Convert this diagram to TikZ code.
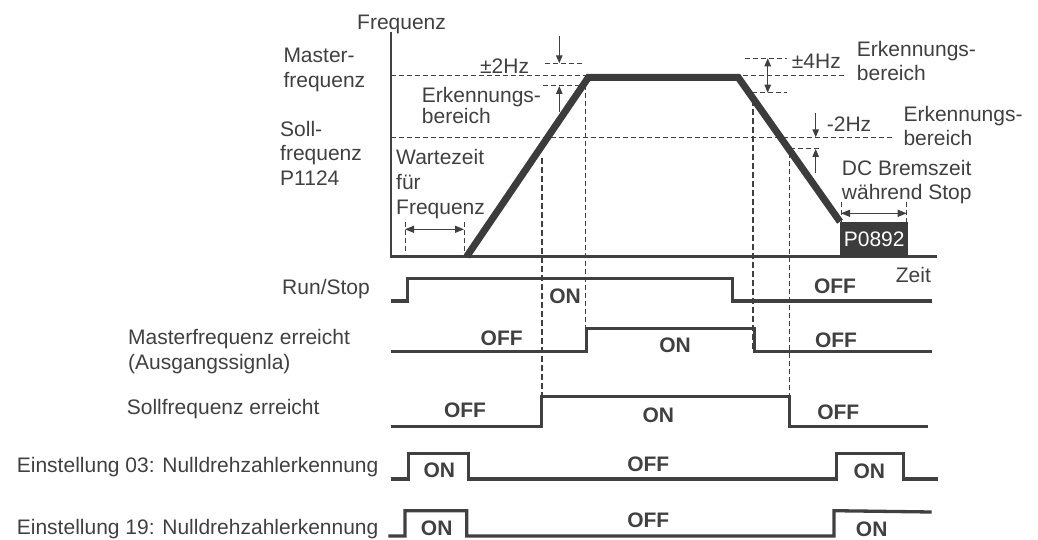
\documentclass[tikz,border=0pt]{standalone}
\usepackage{fontspec}
\setmainfont{Liberation Sans}
\usetikzlibrary{arrows.meta}
\definecolor{ink}{HTML}{404040}
\definecolor{curve}{HTML}{3C3C3C}
\begin{document}
\begin{tikzpicture}[x=1pt,y=-1pt,
  lbl/.style={inner sep=0pt, text=ink, align=left, anchor=north west},
  onoff/.style={inner sep=0pt, text=ink, font=\fontsize{21}{25}\selectfont\bfseries},
  thindash/.style={draw=ink, line width=1pt, dash pattern=on 5pt off 3pt},
  thickdash/.style={draw=ink, line width=1.8pt, dash pattern=on 6pt off 3pt},
  sig/.style={draw=ink, line width=3.3pt, line join=miter},
  axis/.style={draw=ink, line width=2.2pt},
  dimarrow/.style={draw=ink, line width=1pt, -{Triangle[length=8pt,width=6.5pt]}},
  dimboth/.style={draw=ink, line width=1.3pt, {Triangle[length=9pt,width=7pt]}-{Triangle[length=9pt,width=7pt]}},
]
\useasboundingbox (0,0) rectangle (1038,540);
\tikzset{every node/.append style={font=\fontsize{21}{25}\selectfont}}

% ---------- axes ----------
\coordinate (o) at (390.7,256.7);
\coordinate (ytop) at (390.7,32);
\coordinate (xend) at (936.7,256.7);
\draw[axis] (ytop) -- (o |- 0,258);
\draw[axis, line width=2.7pt] (389.6,256.7) -- (xend);

% ---------- reference dashed levels ----------
\coordinate (m0) at (390.7,76);   \coordinate (m1) at (846.7,76);
\coordinate (s0) at (390.7,137.3);\coordinate (s1) at (891.7,137.3);
\draw[thindash] (m0) -- (m1);
\draw[thindash] (s0) -- (s1);

% tolerance dashed lines
\draw[thindash] (545,63.3) -- (581.7,63.3);
\draw[thindash] (543,86) -- (585,86);
\draw[thindash] (745,58.3) -- (786.7,58.3);
\draw[thindash] (751.7,92.7) -- (786.7,92.7);
\draw[thindash] (790,149) -- (821,149);

% wait time / DC brake ticks
\draw[thindash] (405,221.7) -- (405,253.3);
\draw[thindash] (464,221.7) -- (464,253.3);
\draw[thindash] (841,201.7) -- (841,221.7);
\draw[thindash] (906.7,201.7) -- (906.7,221.7);

% long vertical dashed lines
\draw[thickdash] (541.7,158) -- (541.7,396.7);
\draw[thindash]  (585,85) -- (585,328.3);
\draw[thickdash] (753.3,100) -- (753.3,350);
\draw[thindash]  (789.3,153) -- (789.3,396.7);

% ---------- frequency curve ----------
\node[fill=curve, text=white, inner sep=0pt, minimum width=68pt, minimum height=35pt, anchor=north west] (p0892) at (840,221.7) {P0892};
\coordinate (r0) at (466.7,256.5);
\coordinate (r1) at (588.3,77.5);
\coordinate (r2) at (738.3,77.5);
\draw[draw=curve, line width=7pt, line join=miter] (r0) -- (r1) -- (r2) -- (p0892.north west);

% ---------- dimension arrows ----------
\coordinate (a1s) at (559.3,36);    \coordinate (a1e) at (559.3,63.3);
\coordinate (a2s) at (559.3,111.7); \coordinate (a2e) at (559.3,86);
\coordinate (a3s) at (767.7,58.3);  \coordinate (a3e) at (767.7,92.7);
\coordinate (a4s) at (815.7,113.3); \coordinate (a4e) at (815.7,137.3);
\coordinate (a5s) at (815.7,172.7); \coordinate (a5e) at (815.7,149);
\coordinate (w0) at (405,229.3);    \coordinate (w1) at (464,229.3);
\coordinate (d0) at (841,213.3);    \coordinate (d1) at (906.7,213.3);
\draw[dimarrow] (a1s) -- (a1e);
\draw[dimarrow] (a2s) -- (a2e);
\draw[draw=ink, line width=1pt, {Triangle[length=8pt,width=6.5pt]}-{Triangle[length=8pt,width=6.5pt]}] (a3s) -- (a3e);
\draw[dimarrow] (a4s) -- (a4e);
\draw[dimarrow] (a5s) -- (a5e);
\draw[dimboth] (w0) -- (w1);
\draw[dimboth] (d0) -- (d1);

% ---------- chart labels ----------
\node[lbl] (freq) at (357,14.5) {Frequenz};
\node[lbl] (master) at (283.3,47.5) {Master-\\frequenz};
\node[lbl, font=\fontsize{21}{24.7}\selectfont] (soll) at (280,120.8) {Soll-\\frequenz\\P1124};
\node[lbl] (pm2) at (480,58.5) {±2Hz};
\node[lbl, font=\fontsize{21}{21.5}\selectfont] (erk1) at (421.7,87) {Erkennungs-\\bereich};
\node[lbl] (wait) at (396,148.8) {Wartezeit\\für\\Frequenz};
\node[lbl] (pm4) at (791.7,54.2) {±4Hz};
\node[lbl, font=\fontsize{21}{23.7}\selectfont] (erk2) at (856.7,41.3) {Erkennungs-\\bereich};
\node[lbl] (m2) at (826.7,116.5) {-2Hz};
\node[lbl, font=\fontsize{21}{23.8}\selectfont] (erk3) at (903.3,106.2) {Erkennungs-\\bereich};
\node[lbl, font=\fontsize{21}{23.3}\selectfont] (dc) at (841.7,160.5) {DC Bremszeit\\während Stop};
\node[lbl] (zeit) at (895.7,267.5) {Zeit};

% ---------- signal labels ----------
\node[lbl, anchor=north east] (runstop) at (370,279.2) {Run/Stop};
\node[lbl] (mfe) at (128,329.2) {Masterfrequenz erreicht\\(Ausgangssignla)};
\node[lbl] (sfe) at (126.7,399.2) {Sollfrequenz erreicht};
\node[lbl] (e03) at (16.7,457.5) {Einstellung 03: Nulldrehzahlerkennung};
\node[lbl] (e19) at (16.7,519.2) {Einstellung 19: Nulldrehzahlerkennung};

% ---------- signals ----------
\draw[sig] (390.7,301) -- (407.3,301) -- (407.3,278.3) -- (732.7,278.3) -- (732.7,301) -- (931.7,301);
\draw[sig] (391,351.7) -- (586.7,351.7) -- (586.7,328.3) -- (754.3,328.3) -- (754.3,351.7) -- (931.7,351.7);
\draw[sig] (390.7,426.7) -- (541.7,426.7) -- (541.7,396.7) -- (789.3,396.7) -- (789.3,426.7) -- (928.3,426.7);
\draw[sig] (390.7,479) -- (408.3,479) -- (408.3,453.3) -- (468.3,453.3) -- (468.3,479) -- (836.7,479) -- (836.7,453.3) -- (903.3,453.3) -- (903.3,479) -- (938.3,479);
\draw[sig] (388.3,536) -- (405,536) -- (405,510.7) -- (466.7,510.7) -- (466.7,536) -- (834,536) -- (834,510.7) -- (931.7,512);

% ---------- ON / OFF ----------
\node[onoff] (rs-on)  at (565,296) {ON};
\node[onoff] (rs-off) at (835,286.7) {OFF};
\node[onoff] (mf-off1) at (501.7,338.3) {OFF};
\node[onoff] (mf-on)   at (675,345) {ON};
\node[onoff] (mf-off2) at (836,340) {OFF};
\node[onoff] (sf-off1) at (465,410) {OFF};
\node[onoff] (sf-on)   at (658.3,415) {ON};
\node[onoff] (sf-off2) at (838.3,412.7) {OFF};
\node[onoff] (e3-on1) at (439.3,470.7) {ON};
\node[onoff] (e3-off) at (648.3,464) {OFF};
\node[onoff] (e3-on2) at (869.3,471) {ON};
\node[onoff] (e9-on1) at (436.7,528.3) {ON};
\node[onoff] (e9-off) at (648.3,520) {OFF};
\node[onoff] (e9-on2) at (871.7,528.8) {ON};
\end{tikzpicture}
\end{document}
